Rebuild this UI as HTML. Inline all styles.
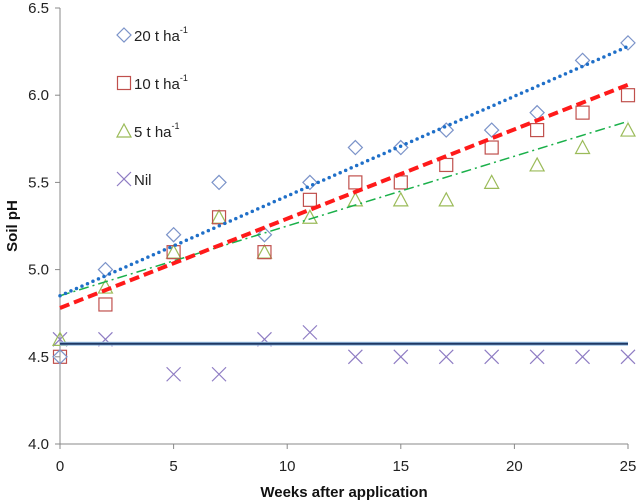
<!DOCTYPE html>
<html><head><meta charset="utf-8"><style>
body{margin:0;background:#fff}
svg{display:block;font-family:"Liberation Sans",sans-serif}
</style></head><body>
<svg id="c" width="639" height="502"></svg>
<script>
const weeks=[0,2,5,7,9,11,13,15,17,19,21,23,25];
const s20=[4.5,5.0,5.2,5.5,5.2,5.5,5.7,5.7,5.8,5.8,5.9,6.2,6.3];
const s10=[4.5,4.8,5.1,5.3,5.1,5.4,5.5,5.5,5.6,5.7,5.8,5.9,6.0];
const s5=[4.6,4.9,5.1,5.3,5.1,5.3,5.4,5.4,5.4,5.5,5.6,5.7,5.8];
const sNil=[4.6,4.6,4.4,4.4,4.6,4.64,4.5,4.5,4.5,4.5,4.5,4.5,4.5];
// trendline [start value at week 0, end value at week 25]
const t20=[4.85,6.28];
const t10=[4.78,6.06];
const t5=[4.85,5.85];
const tNil=[4.575,4.575];
const xTicks=[0,5,10,15,20,25];
const yTicks=[4.0,4.5,5.0,5.5,6.0,6.5];
const NS='http://www.w3.org/2000/svg';
const svg=document.getElementById('c');
const X=v=>60+(v/25)*568;
const Y=v=>444-(v-4)/2.5*436;
function el(t,a,p){const e=document.createElementNS(NS,t);for(const k in a)e.setAttribute(k,a[k]);(p||svg).appendChild(e);return e;}
let ax=el('line',{x1:60,y1:8,x2:60,y2:444,stroke:'#888','stroke-width':1});


let axx=el('line',{x1:60,y1:444,x2:628,y2:444,stroke:'#888','stroke-width':1});


yTicks.forEach(v=>{
  el('line',{x1:55,y1:Y(v),x2:60,y2:Y(v),stroke:'#888'});
  const t=el('text',{x:49,y:Y(v)+5,'text-anchor':'end','font-size':15,fill:'#222'});
  t.textContent=v.toFixed(1);
  
  
});
xTicks.forEach(v=>{
  el('line',{x1:X(v),y1:444,x2:X(v),y2:449,stroke:'#888'});
  const t=el('text',{x:X(v),y:471,'text-anchor':'middle','font-size':15,fill:'#222'});
  t.textContent=v;
  
  
});
let xt=el('text',{x:344,y:497,'text-anchor':'middle','font-size':15,'font-weight':'bold',fill:'#111'});
xt.textContent='Weeks after application';


let yt=el('text',{x:0,y:0,transform:'translate(17,226) rotate(-90)','text-anchor':'middle','font-size':15,'font-weight':'bold',fill:'#111'});
yt.textContent='Soil pH';


function trend(tv,attrs,name){
  const l=el('line',Object.assign({x1:X(0),y1:Y(tv[0]),x2:X(25),y2:Y(tv[1])},attrs));
  
  
}
function marker(type,x,y,g){
  const c={d:'#7b93c9',s:'#c0504d',t:'#9bbb59',x:'#8e7cc3'}[type];
  let e;
  if(type==='d')e=el('path',{d:`M${x},${y-7}L${x+7},${y}L${x},${y+7}L${x-7},${y}Z`,fill:'none',stroke:c,'stroke-width':1.2},g);
  if(type==='s')e=el('rect',{x:x-6.5,y:y-6.5,width:13,height:13,fill:'none',stroke:c,'stroke-width':1.2},g);
  if(type==='t')e=el('path',{d:`M${x},${y-7}L${x+7},${y+6}L${x-7},${y+6}Z`,fill:'none',stroke:c,'stroke-width':1.2},g);
  if(type==='x')e=el('path',{d:`M${x-7},${y-7}L${x+7},${y+7}M${x+7},${y-7}L${x-7},${y+7}`,fill:'none',stroke:c,'stroke-width':1.2},g);
  return e;
}
function series(ys,type,name){
  const g=el('g',{});
  
  
  ys.forEach((v,i)=>{const m=marker(type,X(weeks[i]),Y(v),g);
    
    });
}
series(sNil,'x','series-nil');
series(s5,'t','series-5t');
series(s10,'s','series-10t');
series(s20,'d','series-20t');
trend(tNil,{stroke:'#9dc3e6','stroke-width':4},'trend-nil-halo');
trend(tNil,{stroke:'#1f3864','stroke-width':2},'trend-nil');
trend(t5,{stroke:'#1ab04a','stroke-width':1.5,'stroke-dasharray':'10 4 2 4'},'trend-5t');
trend(t10,{stroke:'#ff1a1a','stroke-width':4,'stroke-dasharray':'10 5'},'trend-10t');
trend(t20,{stroke:'#1f6fc8','stroke-width':3.5,'stroke-dasharray':'0 6','stroke-linecap':'round'},'trend-20t');
const leg=[['d','20 t ha','-1'],['s','10 t ha','-1'],['t','5 t ha','-1'],['x','Nil','']];
leg.forEach((L,i)=>{
  const y=35+i*48;
  const g=el('g',{});
  
  
  marker(L[0],124,y,g);
  const t=el('text',{x:134,y:y+6,'font-size':15,fill:'#222'},g);
  t.textContent=L[1];
  if(L[2]){const s=el('tspan',{dy:-8,'font-size':9},t);s.textContent=L[2];}
});
</script>
</body></html>
